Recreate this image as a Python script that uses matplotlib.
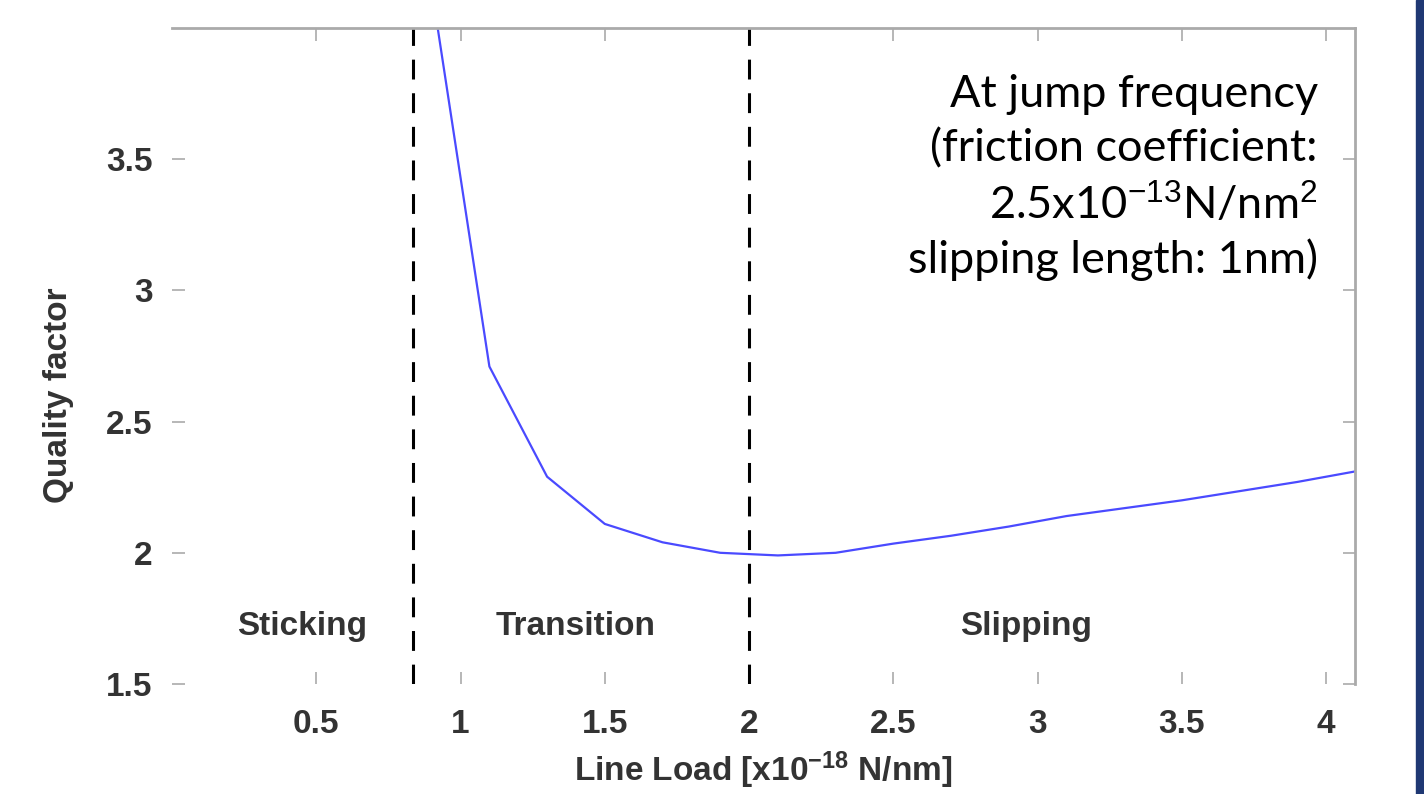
import numpy as np
import matplotlib
matplotlib.use("Agg")
import matplotlib.pyplot as plt
from matplotlib.patches import Rectangle

# line load [x1e-18 N/nm] and quality factor
load = [0.9, 1.1, 1.3, 1.5, 1.7, 1.9, 2.1, 2.3, 2.5, 2.7, 2.9, 3.1, 3.3, 3.5, 3.7, 3.9, 4.1]
qfac = [4.15, 2.71, 2.29, 2.11, 2.04, 2.00, 1.99, 2.00, 2.035, 2.065, 2.10, 2.14, 2.17, 2.20, 2.235, 2.27, 2.31]

bounds = [0.835, 2.0]
regions = ["Sticking", "Transition", "Slipping"]
region_x = [0.45, 1.40, 2.96]

xticks = [0.5, 1, 1.5, 2, 2.5, 3, 3.5, 4]
xticklabels = ["0.5", "1", "1.5", "2", "2.5", "3", "3.5", "4"]
yticks = [1.5, 2, 2.5, 3, 3.5]
yticklabels = ["1.5", "2", "2.5", "3", "3.5"]

note = ["At jump frequency",
        "(friction coefficient:",
        "2.5x10$^{-13}$N/nm$^{2}$",
        "slipping length: 1nm)"]

plt.rcParams['font.family'] = ['Liberation Sans', 'DejaVu Sans']
plt.rcParams['mathtext.fontset'] = 'custom'
plt.rcParams['mathtext.rm'] = 'Liberation Sans'
plt.rcParams['mathtext.it'] = 'Liberation Sans'
plt.rcParams['mathtext.bf'] = 'Liberation Sans:bold'

fig = plt.figure(figsize=(14.24, 7.94), dpi=100)
ax = fig.add_axes([172/1424, 1 - 684/794, (1355-172)/1424, (684-28)/794])

ax.plot(load, qfac, color='#4a4aff', lw=1.6)
for b in bounds:
    ax.axvline(b, color='black', lw=2.2, dashes=(6.5, 4.5))

for name, xr in zip(regions, region_x):
    ax.text(xr, 1.72, name, ha='center', va='center', fontsize=24,
            fontweight='bold', color='#333333')

ax.set_xlim(0, 4.1)
ax.set_ylim(1.5, 4.0)
ax.set_xticks(xticks)
ax.set_xticklabels(xticklabels, fontweight='bold')
ax.set_yticks(yticks)
ax.set_yticklabels(yticklabels, fontweight='bold')

for side in ['left', 'bottom']:
    ax.spines[side].set_visible(False)
for side in ['top', 'right']:
    ax.spines[side].set_color('#aaaaaa')
    ax.spines[side].set_linewidth(2)

ax.tick_params(direction='in', length=9, width=1.2, color='#aaaaaa',
               top=True, right=True, labelsize=24, labelcolor='#333333')
ax.tick_params(axis='x', pad=18)
ax.tick_params(axis='y', pad=14)

ax.set_xlabel("Line Load [x10$^{\\mathbf{-18}}$ N/nm]", fontsize=24, fontweight='bold',
              color='#333333', labelpad=7)
ax.set_ylabel("Quality factor", fontsize=24, fontweight='bold', color='#333333')
ax.yaxis.set_label_coords(-0.083, 0.44)

ys = [0.93, 0.847, 0.764, 0.68]
for line, yy in zip(note, ys):
    ax.text(0.9687, yy, line, transform=ax.transAxes, ha='right', va='top',
            fontsize=32.5, family=['Lato', 'DejaVu Sans'], color='black')

fig.patches.append(Rectangle((1416/1424, 0), 8/1424, 1, transform=fig.transFigure,
                             color='#1f3873', zorder=5))

fig.savefig("out.png", dpi=100)
